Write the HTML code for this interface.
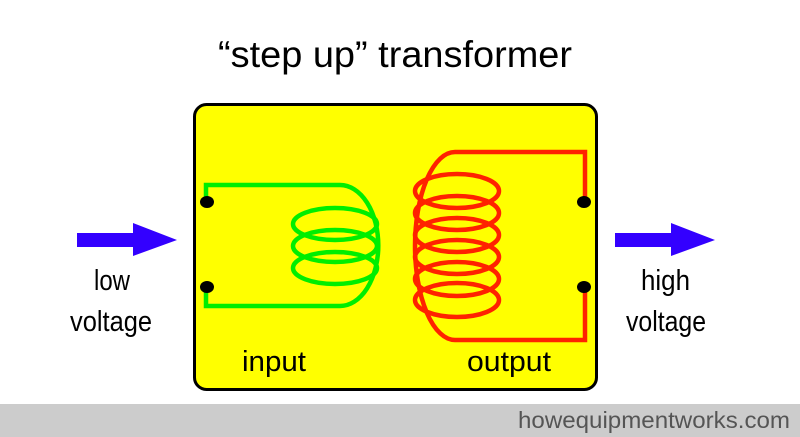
<!DOCTYPE html>
<html><head><meta charset="utf-8"><style>
html,body{margin:0;padding:0;background:#fff;width:800px;height:437px;overflow:hidden}
text{font-family:"Liberation Sans",sans-serif}
</style></head><body>
<svg width="800" height="437" viewBox="0 0 800 437" xmlns="http://www.w3.org/2000/svg">
<rect x="0" y="0" width="800" height="437" fill="#fff"/>
<text x="218" y="67" font-size="37" fill="#000" textLength="354" lengthAdjust="spacingAndGlyphs">“step up” transformer</text>
<rect x="194.5" y="104.5" width="402" height="285" rx="12" fill="#ffff00" stroke="#000" stroke-width="3"/>
<g fill="none" stroke="#00ee00" stroke-width="4.5">
<path d="M206 202 V185 H340 A38 60 0 0 1 340 306 H206 V287"/>
<ellipse cx="335" cy="224" rx="42" ry="16"/>
<ellipse cx="335" cy="246" rx="42" ry="16"/>
<ellipse cx="335" cy="268" rx="42" ry="16"/>
</g>
<g fill="none" stroke="#ff2200" stroke-width="4.5">
<path d="M585 202 V152 H455 A40 94 0 0 0 455 340 H585 V287"/>
<ellipse cx="457" cy="191" rx="42" ry="17"/>
<ellipse cx="457" cy="213" rx="42" ry="17"/>
<ellipse cx="457" cy="235" rx="42" ry="17"/>
<ellipse cx="457" cy="257" rx="42" ry="17"/>
<ellipse cx="457" cy="279" rx="42" ry="17"/>
<ellipse cx="457" cy="300" rx="42" ry="17"/>
</g>
<g fill="#000">
<ellipse cx="207" cy="202" rx="7" ry="6"/>
<ellipse cx="207" cy="287" rx="7" ry="6"/>
<ellipse cx="584" cy="202" rx="7" ry="6"/>
<ellipse cx="584" cy="287" rx="7" ry="6"/>
</g>
<polygon fill="#3300ff" points="77,233 133,233 133,223 177,240 133,256 133,247 77,247"/>
<polygon fill="#3300ff" points="615,233 671,233 671,223 715,240 671,256 671,247 615,247"/>
<g font-size="29" fill="#000">
<text x="94" y="290" textLength="36" lengthAdjust="spacingAndGlyphs">low</text>
<text x="70" y="331" textLength="82" lengthAdjust="spacingAndGlyphs">voltage</text>
<text x="641" y="290" textLength="49" lengthAdjust="spacingAndGlyphs">high</text>
<text x="626" y="331" textLength="80" lengthAdjust="spacingAndGlyphs">voltage</text>
<text x="242" y="371" textLength="64" lengthAdjust="spacingAndGlyphs">input</text>
<text x="467" y="371" textLength="84" lengthAdjust="spacingAndGlyphs">output</text>
</g>
<rect x="0" y="404" width="800" height="33" fill="#cccccc"/>
<text x="518" y="428" font-size="23" fill="#555" textLength="272" lengthAdjust="spacingAndGlyphs">howequipmentworks.com</text>
</svg>
</body></html>
